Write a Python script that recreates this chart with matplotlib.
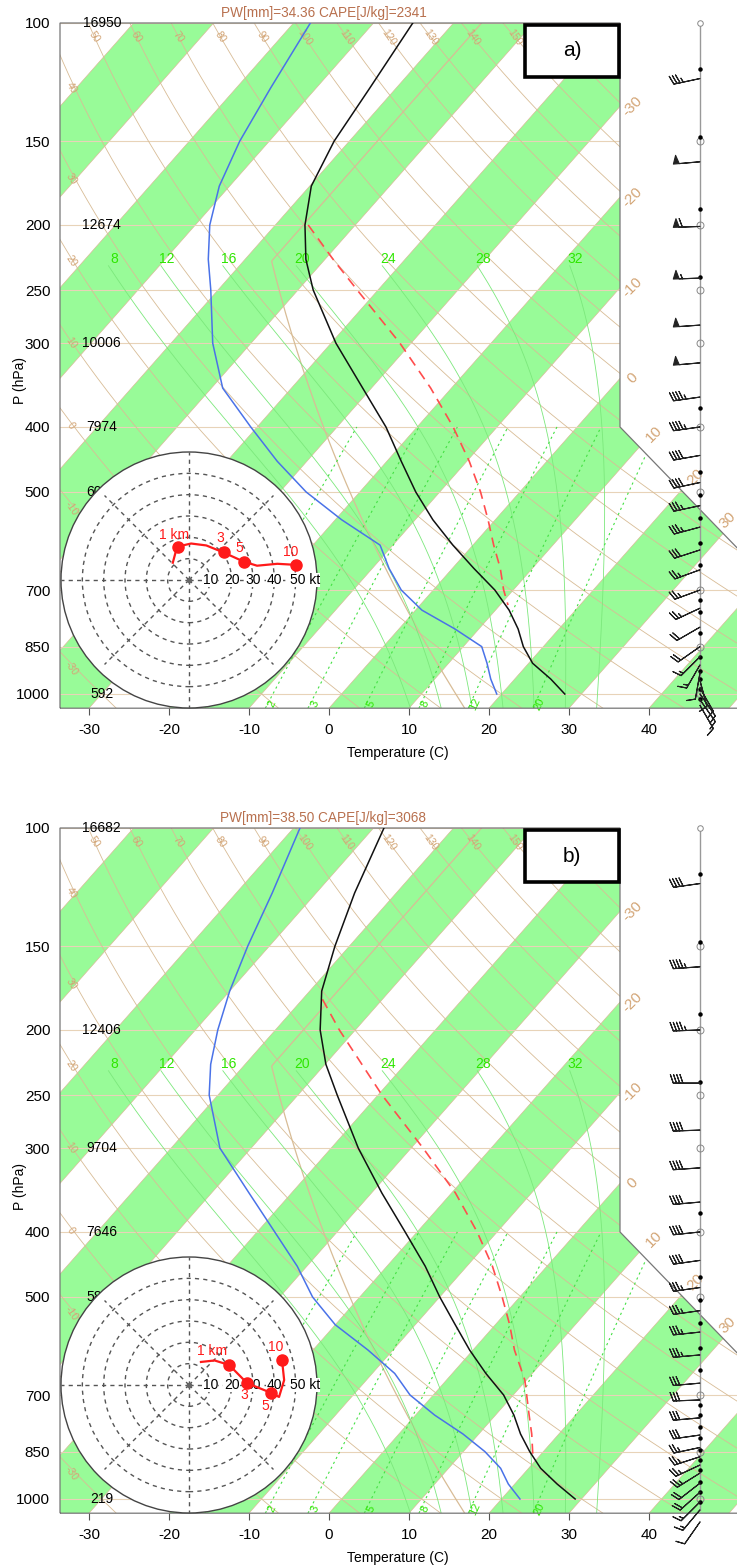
import numpy as np
import matplotlib.pyplot as plt
from matplotlib.patches import Polygon, Circle, Rectangle

plt.rcParams['font.family'] = ['Liberation Sans', 'DejaVu Sans']

# ---------------- data ----------------
levels = [100, 125, 150, 175, 200, 225, 250, 300, 350, 400, 450,
          500, 550, 600, 650, 700, 750, 800, 850, 900, 950, 1000]

temp_a = [-65.1, -63.3, -61.9, -59.8, -56.3, -52.4, -48.1, -39.4, -31.1, -23.9, -18.2,
          -13.0, -7.8, -2.5, 2.7, 7.7, 11.7, 14.9, 17.5, 20.5, 24.5, 27.9]
dewp_a = [-77.9, -75.7, -73.7, -71.3, -68.2, -64.6, -60.9, -54.8, -48.6, -40.8, -33.7,
          -26.7, -19.2, -11.6, -7.9, -4.0, 0.8, 7.0, 12.3, 14.8, 17.0, 19.4]
parcel_p_a = [200, 225, 250, 300, 350, 400, 450, 500, 550, 600, 650, 700, 737]
parcel_t_a = [-55.9, -49.0, -42.6, -31.4, -22.6, -15.5, -9.7, -4.9, -0.9, 2.6, 6.0, 8.8, 11.0]

temp_b = [-68.7, -65.2, -61.8, -58.5, -54.4, -49.9, -45.1, -36.6, -28.7, -21.5, -15.2,
          -10.0, -5.0, -0.4, 4.2, 8.8, 12.3, 15.2, 18.3, 21.5, 25.3, 29.2]
dewp_b = [-79.2, -75.5, -72.7, -70.0, -67.2, -64.3, -61.1, -53.9, -45.3, -37.8, -31.2,
          -25.9, -20.0, -13.1, -7.2, -2.9, 2.4, 8.0, 12.7, 16.5, 19.2, 22.3]
parcel_p_b = [180, 200, 250, 300, 350, 400, 450, 500, 550, 600, 665, 750, 800, 861]
parcel_t_b = [-57.5, -52.0, -39.5, -28.5, -19.5, -12.5, -6.8, -2.2, 1.8, 5.2, 9.8, 14.2, 16.6, 19.1]

hgt_p = [100, 200, 300, 400, 500, 700, 850, 1000]
hgt_a = ['16950', '12674', '10006', '7974', '6042', '3260', '1620', '592']
hgt_b = ['16682', '12406', '9704', '7646', '5850', '3070', '1420', '219']

info_a = 'PW[mm]=34.36 CAPE[J/kg]=2341'
info_b = 'PW[mm]=38.50 CAPE[J/kg]=3068'

# hodograph (kt), markers at 1, 3, 5, 10 km
hodo_u_a = [-7.6, -6.2, -5.2, 1.0, 8.1, 16.2, 25.7, 31.9, 41.4, 50.0]
hodo_v_a = [8.1, 13.3, 15.7, 17.1, 16.2, 12.9, 8.6, 6.7, 7.6, 7.1]
hodo_mk_a = [2, 5, 6, 9]
hodo_u_b = [5.6, 12.0, 18.8, 27.2, 38.5, 42.2, 44.6, 43.6]
hodo_v_b = [10.8, 11.5, 9.4, 0.9, -3.7, -5.6, 2.3, 11.7]
hodo_mk_b = [2, 3, 4, 7]
hodo_lab = ['1 km', '3', '5', '10']
hodo_lab_off_a = [(-2, 5.5), (-1.4, 7), (-2.3, 6.6), (-2.3, 5.8)]
hodo_lab_off_b = [(-8, 6.5), (-1.2, -5.8), (-2.5, -6.2), (-3, 6)]

barb_p_a = [121, 161, 201, 240, 282, 321, 361, 400, 441, 484, 524, 564, 610, 653,
            700, 745, 795, 850, 880, 905, 930, 955, 980, 1000, 1020, 1040]
barb_s_a = [35, 50, 60, 55, 50, 50, 45, 45, 40, 40, 35, 35, 30, 25,
            25, 25, 20, 20, 15, 15, 10, 10, 10, 10, 10, 10]
barb_d_a = [258, 265, 268, 268, 266, 265, 262, 262, 260, 258, 258, 255, 252, 250,
            250, 245, 240, 235, 225, 210, 190, 165, 150, 145, 145, 150]
dot_p_a = [117, 148, 189, 239, 375, 467, 506, 547, 596, 642, 724, 756, 811, 881, 924, 951, 982, 1016]

barb_p_b = [121, 161, 200, 240, 282, 321, 361, 400, 441, 484, 524, 564, 610, 672,
            712, 757, 803, 838, 865, 890, 915, 947, 977, 1010, 1038, 1082]
barb_s_b = [40, 45, 45, 40, 40, 40, 40, 40, 40, 35, 35, 35, 35, 30,
            30, 30, 30, 25, 25, 25, 25, 20, 20, 15, 15, 10]
barb_d_b = [262, 266, 268, 270, 268, 266, 265, 264, 262, 262, 262, 264, 265, 265,
            268, 265, 262, 258, 252, 245, 238, 232, 228, 225, 220, 215]
dot_p_b = [117, 148, 189, 239, 375, 467, 506, 547, 596, 642, 724, 750, 781, 811, 845,
           875, 905, 943, 977, 1010]

mand_p = [100, 150, 200, 250, 300, 400, 500, 700, 850, 1000]

# ---------------- diagram constants ----------------
W, H = 737, 1568
RD, CP, LV, EPS = 287.04, 1005.7, 2.501e6, 0.622
KAP = RD / CP
C_SKEW = 32.14
P_BOT, P_TOP = 1050., 100.
X_LEFT, X_EDGE, X_RIGHT = -33.625, 36.375, 51.0
TAN = '#D8BC96'
TANTXT = '#D3A576'
PALEG = '#98FB98'


def skx(t, p):
    return np.asarray(t, float) + C_SKEW * np.log(P_BOT / np.asarray(p, float))


def esat(tc):
    return 6.112 * np.exp(17.67 * tc / (tc + 243.5))


def moist_adiabat(t0):
    def dtdp(t, p):
        es = esat(t - 273.15)
        rs = EPS * es / (p - es)
        return (RD * t + LV * rs) / (p * (CP + LV * LV * rs * EPS / (RD * t * t)))
    res = []
    for p_end, step in ((230., -2.), (1050., 2.)):
        p, t = 1000., t0 + 273.15
        ps, ts = [p], [t]
        while (p > p_end) if step < 0 else (p < p_end):
            k1 = dtdp(t, p)
            k2 = dtdp(t + step * k1, p + step)
            t += 0.5 * step * (k1 + k2)
            p += step
            ps.append(p)
            ts.append(t)
        res.append((np.array(ps), np.array(ts) - 273.15))
    up, dn = res
    return np.concatenate([dn[0][::-1], up[0][1:]]), np.concatenate([dn[1][::-1], up[1][1:]])


def fig_text(x, y, s, **kw):
    fig.text(x / W, 1 - y / H, s, **kw)


fig = plt.figure(figsize=(W / 100, H / 100), dpi=100)


def draw_panel(off, temp, dewp, pp, pt, hgts, info, tag,
               hu, hv, hmk, hoff, bp, bs, bd, dp):
    ax = fig.add_axes([60 / W, 1 - (708.2 + off) / H, 677 / W, 685.2 / H])
    ax.set_yscale('log')
    ax.set_xlim(X_LEFT, X_RIGHT)
    ax.set_ylim(P_BOT, P_TOP)
    ax.set_facecolor('none')
    for s in ax.spines.values():
        s.set_visible(False)

    verts = [(X_LEFT, P_BOT), (X_LEFT, P_TOP), (X_EDGE, P_TOP), (X_EDGE, 400.),
             (65.1, 903.), (65.1, P_BOT)]
    clip = Polygon(verts, closed=True, fc='none', ec='none')
    ax.add_patch(clip)

    def clipped(artist):
        artist.set_clip_path(clip)
        return artist

    # temperature bands
    for t in range(-140, 60, 20):
        band = Polygon([(skx(t, P_BOT), P_BOT), (skx(t + 10, P_BOT), P_BOT),
                        (skx(t + 10, P_TOP), P_TOP), (skx(t, P_TOP), P_TOP)],
                       closed=True, fc=PALEG, ec='none', zorder=0)
        ax.add_patch(band)
        clipped(band)

    pgrid = np.geomspace(P_BOT, P_TOP, 300)
    # isotherms
    for t in range(-140, 60, 10):
        ln, = ax.plot(skx([t, t], [P_BOT, P_TOP]), [P_BOT, P_TOP], color=TAN, lw=0.5, zorder=1)
        clipped(ln)
    # isobars
    for p in mand_p:
        ln, = ax.plot([X_LEFT, X_RIGHT + 20], [p, p], color='#E8D3B8', lw=0.8, zorder=1)
        clipped(ln)
    # dry adiabats
    for th in range(-30, 210, 10):
        tt = (th + 273.15) * (pgrid / 1000.) ** KAP - 273.15
        xs = skx(tt, pgrid)
        ln, = ax.plot(xs, pgrid, color=TAN, lw=0.6, zorder=1)
        clipped(ln)
        if 50 <= th <= 150:
            tl = (th + 273.15) * (105 / 1000.) ** KAP - 273.15
            ax.text(skx(tl, 105), 105, str(th), color=TANTXT, fontsize=7.5,
                    rotation=-55, ha='center', va='center', zorder=2)
        elif th <= 40 and xs.min() < X_LEFT < xs.max():
            idx = np.argmin(np.abs(xs - X_LEFT))
            shift = 18 + max(0, th - 10) * 0.5
            ax.text(X_LEFT + 1.4, pgrid[idx] * np.exp(shift / 291.4), str(th), color=TANTXT,
                    fontsize=7.5, rotation=-55, ha='center', va='center', zorder=2)
    # standard atmosphere
    tst = np.maximum(288.15 * (pgrid / 1013.25) ** 0.190263 - 273.15, -56.5)
    ln, = ax.plot(skx(tst, pgrid), pgrid, color=TAN, lw=0.9, zorder=1)
    clipped(ln)
    # moist adiabats
    for tw in range(8, 36, 4):
        mp, mt = moist_adiabat(tw)
        ln, = ax.plot(skx(mt, mp), mp, color='#7CE87C', lw=0.6, zorder=1)
        clipped(ln)
        ax.text(skx(mt[-1], mp[-1]) + 0.7, 225, str(tw), color='#2EE600', fontsize=10,
                ha='center', va='center', zorder=2)
    # mixing ratio lines
    pw = np.geomspace(P_BOT, 400, 60)
    for w in [1, 2, 3, 5, 8, 12, 20]:
        e = w * pw / (622. + w)
        le = np.log(e / 6.112)
        td = 243.5 * le / (17.67 - le)
        ln, = ax.plot(skx(td, pw), pw, color='#44E044', lw=0.8, ls=(0, (2, 3)), zorder=1)
        clipped(ln)
        e0 = w * 1036 / (622. + w)
        l0 = np.log(e0 / 6.112)
        ax.text(skx(243.5 * l0 / (17.67 - l0), 1036) + 0.6, 1036, str(w), color='#2EE600',
                fontsize=8, rotation=65, ha='center', va='center', zorder=2)
    # isotherm labels on the right edge
    for t in [-30, -20, -10, 0]:
        p = P_BOT / np.exp((X_EDGE - t) / C_SKEW)
        ax.text(X_EDGE + 1.6, p, str(t), color=TANTXT, fontsize=11, rotation=45,
                ha='center', va='center', clip_on=False)
    # isotherm labels along the diagonal edge (620,427)-(850,665) px
    xs_px = np.linspace(620, 850, 400)
    ys_px = 427 + (xs_px - 620) * (238. / 230.)
    pp_d = 100 * np.exp((ys_px - 23) / 291.4)
    xd = (xs_px - 329) / 8.
    for t, dx in [(10, 1.8), (20, 1.8), (30, 0.6)]:
        k = np.argmin(np.abs(xd - skx(t, pp_d)))
        ax.text(xd[k] + dx, pp_d[k] * 0.955, str(t), color=TANTXT, fontsize=11, rotation=45,
                ha='center', va='center', clip_on=False)

    # outline
    ax.add_patch(Polygon(verts, closed=True, fill=False, ec='#777777', lw=0.9, zorder=3,
                         clip_on=False))

    # sounding
    ax.plot(skx(pt, pp), pp, color='#FF4D4D', lw=1.2, ls=(0, (6, 4)), zorder=5)
    ax.plot(skx(dewp, levels), levels, color='#4A72E8', lw=1.1, zorder=5)
    ax.plot(skx(temp, levels), levels, color='#111111', lw=1.1, zorder=5)

    # heights
    for p, s in zip(hgt_p, hgts):
        ax.text(-28.4, p, s, fontsize=10, ha='center', va='center', zorder=6)

    # axes ticks
    ax.set_xticks(range(-30, 50, 10))
    ax.set_xticklabels([str(t) for t in range(-30, 50, 10)], fontsize=11)
    ax.tick_params(axis='x', direction='out', length=5, width=0.8, color='#555555', pad=6)
    ax.set_yticks(mand_p)
    ax.set_yticklabels([str(p) for p in mand_p], fontsize=11)
    ax.yaxis.set_minor_locator(plt.NullLocator())
    ax.tick_params(axis='y', length=0, pad=7)

    # wind column
    xb = (700 - 329) / 8.
    ax.plot([xb, xb], [P_TOP, 1040], color='#999999', lw=1.0, zorder=6, clip_on=False)
    ax.plot([xb], [P_TOP], marker='o', ms=4, mfc='white', mec='#888888', mew=0.7,
            zorder=7, clip_on=False)
    ax.plot([xb] * len(mand_p[1:]), mand_p[1:], ls='none', marker='o', ms=5, mfc='none',
            mec='#888888', mew=0.7, zorder=7, clip_on=False)
    ax.plot([xb] * len(dp), dp, ls='none', marker='o', ms=2.2, color='black', zorder=7,
            clip_on=False)
    rd = np.deg2rad(bd)
    u = -np.array(bs) * np.sin(rd)
    v = -np.array(bs) * np.cos(rd)
    ax.barbs([xb] * len(bp), bp, u, v, length=6.2, lw=0.8, color='#222222', zorder=7,
             sizes=dict(spacing=0.12, height=0.32, width=0.22), clip_on=False)

    # labels
    fig_text(323.5, 13 + off, info, fontsize=9.8, color='#B8704E', ha='center', va='center')
    fig_text(20, 381 + off, 'P (hPa)', fontsize=10, rotation=90, ha='center', va='center')
    fig_text(398, 753 + off, 'Temperature (C)', fontsize=10, ha='center', va='center')
    fig.patches.append(Rectangle((525 / W, 1 - (77 + off) / H), 94 / W, 52 / H,
                                 transform=fig.transFigure, fc='white', ec='black', lw=2.6,
                                 zorder=10))
    fig_text(572, 51 + off, tag, fontsize=15, ha='center', va='center', zorder=11)

    # hodograph
    half = 128.6
    R = 60 * half / 128.
    hx = fig.add_axes([(189 - half) / W, 1 - (580 + off + half) / H, 2 * half / W, 2 * half / H])
    hx.set_xlim(-R, R)
    hx.set_ylim(-R, R)
    hx.axis('off')
    hx.set_zorder(5)
    hx.add_patch(Circle((0, 0), 60, fc='white', ec='#444444', lw=1.0))
    for r in range(10, 60, 10):
        hx.add_patch(Circle((0, 0), r, fill=False, ec='#555555', lw=1.0, ls=(0, (3, 3))))
    for ang in range(0, 360, 45):
        a = np.deg2rad(ang)
        rr = 60 if ang % 90 == 0 else 56
        hx.plot([0, rr * np.cos(a)], [0, rr * np.sin(a)], color='#555555', lw=1.0,
                ls=(0, (3, 3)))
    hx.plot([0], [0], 'o', ms=3, color='#666666')
    for r in range(10, 60, 10):
        s = '50 kt' if r == 50 else str(r)
        hx.text(r + (4.2 if r == 50 else 0), 0, s, fontsize=10, ha='center', va='center',
                bbox=dict(fc='white', ec='none', pad=0.3))
    hx.plot(hu, hv, color='#FF1A1A', lw=1.6, zorder=4)
    hx.plot(np.array(hu)[hmk], np.array(hv)[hmk], 'o', ms=8, color='#FF1A1A', zorder=5)
    for k, lab, (dx, dy) in zip(hmk, hodo_lab, hoff):
        hx.text(hu[k] + dx, hv[k] + dy, lab, color='#FF1A1A', fontsize=10,
                ha='center', va='center', zorder=6)


draw_panel(0, temp_a, dewp_a, parcel_p_a, parcel_t_a, hgt_a, info_a, 'a)',
           hodo_u_a, hodo_v_a, hodo_mk_a, hodo_lab_off_a, barb_p_a, barb_s_a, barb_d_a, dot_p_a)
draw_panel(805, temp_b, dewp_b, parcel_p_b, parcel_t_b, hgt_b, info_b, 'b)',
           hodo_u_b, hodo_v_b, hodo_mk_b, hodo_lab_off_b, barb_p_b, barb_s_b, barb_d_b, dot_p_b)

fig.savefig('out.png', dpi=100)
